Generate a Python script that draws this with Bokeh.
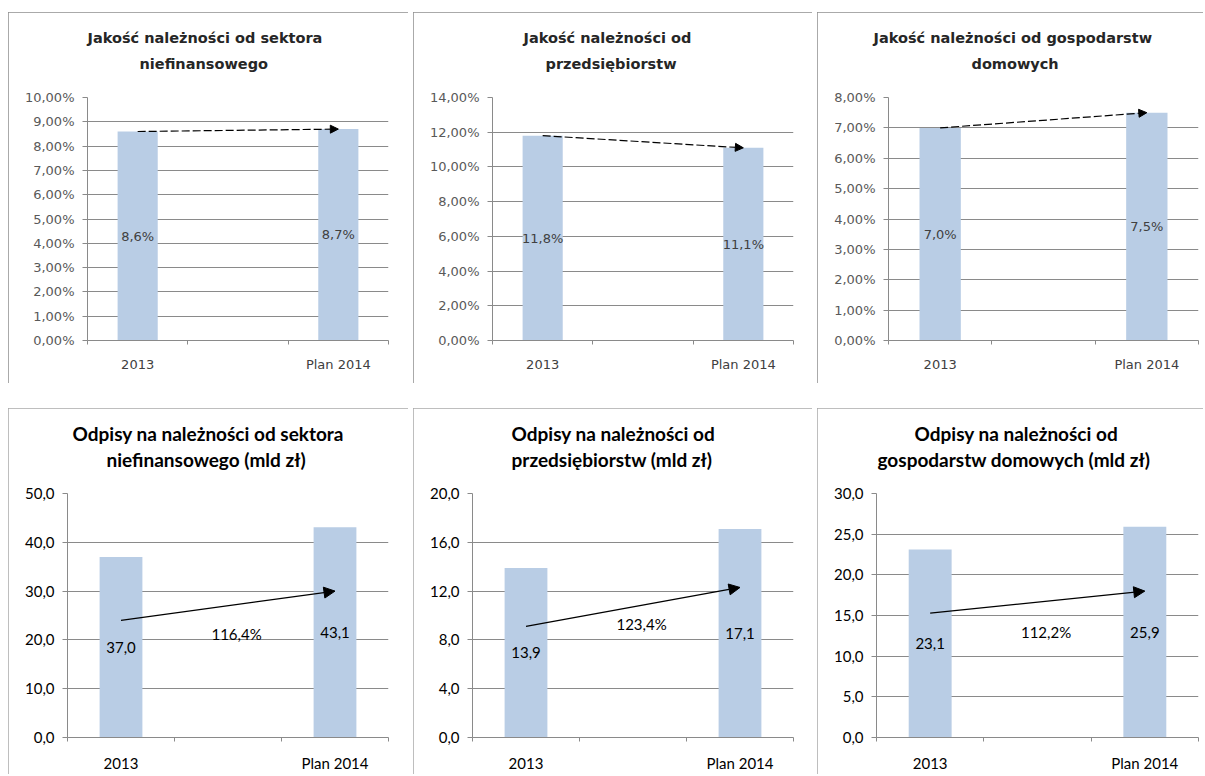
import numpy as np
from bokeh.plotting import figure
from bokeh.models import Range1d, FixedTicker, Arrow, NormalHead, Spacer, Title
from bokeh.layouts import row, column
from bokeh.embed import file_html
from bokeh.resources import INLINE
from bokeh.core.properties import value

# ---------------- data ----------------
categories = ["2013", "", "Plan 2014"]
bar_categories = ["2013", "Plan 2014"]

quality_titles = [
    ["Jakość należności od sektora", "niefinansowego"],
    ["Jakość należności od", "przedsiębiorstw"],
    ["Jakość należności od gospodarstw", "domowych"],
]
quality_sector = [8.6, 8.7]
quality_firms = [11.8, 11.1]
quality_households = [7.0, 7.5]
quality_ymax = [10, 14, 8]
quality_ystep = [1, 2, 1]

writeoff_titles = [
    ["Odpisy na należności od sektora", "niefinansowego (mld zł)"],
    ["Odpisy na należności od", "przedsiębiorstw (mld zł)"],
    ["Odpisy na należności od", "gospodarstw domowych (mld zł)"],
]
writeoff_sector = [37.0, 43.1]
writeoff_firms = [13.9, 17.1]
writeoff_households = [23.1, 25.9]
writeoff_growth = ["116,4%", "123,4%", "112,2%"]
writeoff_ymax = [50, 20, 30]
writeoff_ystep = [10, 4, 5]

# ---------------- styling / layout ----------------
BAR = "#B9CDE5"
GRID = "#8a8a8a"

bar_x = [categories.index(c) + 0.5 for c in bar_categories]
mid_x = categories.index("") + 0.5


def make_panel(kind, title_lines, title_offsets, vals, ymax, ystep, width, height, bl, br, bt, bb,
               growth=None, growth_y=None, arrow_y=None):
    p = figure(width=width, height=height, output_backend="svg", toolbar_location=None,
               title=None,
               x_range=Range1d(0, len(categories)), y_range=Range1d(0, ymax),
               min_border_left=bl, min_border_right=br, min_border_top=bt, min_border_bottom=bb)
    p.outline_line_color = None
    p.background_fill_color = "white"
    p.border_fill_color = "white"
    top = kind == "q"
    border_col = "#8e8e8e" if top else "#a8a8a8"
    p.styles = {"outline": f"1.5px solid {border_col}", "outline-offset": "-1.5px"}

    font_main = "DejaVu Sans" if top else "Lato"
    lab_size = "13px" if top else "15px"
    lab_color = "#404040" if top else "#000000"

    # bars
    p.vbar(x=bar_x, top=vals, width=0.4, fill_color=BAR, line_color=None)

    # y axis
    ticks = [float(t) for t in np.arange(0, ymax + ystep / 2, ystep)]
    if top:
        overrides = {t: (f"{t:.2f}%").replace(".", ",") for t in ticks}
    else:
        overrides = {t: (f"{t:.1f}").replace(".", ",") for t in ticks}
    yax = p.yaxis[0]
    yax.ticker = FixedTicker(ticks=ticks)
    yax.major_label_overrides = overrides
    yax.minor_tick_line_color = None
    yax.major_tick_out = 5
    yax.major_tick_in = 0
    yax.major_tick_line_color = GRID
    yax.axis_line_color = GRID
    yax.major_label_text_font = font_main
    yax.major_label_text_font_size = lab_size
    yax.major_label_text_color = "#595959" if top else "#000000"
    yax.major_label_standoff = 8

    # x axis
    xax = p.xaxis[0]
    xlabels = {float(i) + 0.5: c for i, c in enumerate(categories)}
    xax.ticker = FixedTicker(ticks=list(xlabels.keys()),
                             minor_ticks=[float(i) for i in range(len(categories) + 1)])
    xax.major_label_overrides = xlabels
    xax.major_tick_line_color = None
    xax.major_tick_out = 0
    xax.major_tick_in = 0
    xax.minor_tick_out = 4
    xax.minor_tick_in = 0
    xax.minor_tick_line_color = GRID
    xax.axis_line_color = GRID
    xax.major_label_text_font = font_main
    xax.major_label_text_font_size = lab_size
    xax.major_label_text_color = "#404040" if top else "#000000"
    xax.major_label_standoff = 12

    p.xgrid.grid_line_color = None
    p.ygrid.ticker = FixedTicker(ticks=ticks)
    p.ygrid.grid_line_color = GRID
    p.ygrid.grid_line_width = 1

    # data labels (vertical middle of bars)
    if top:
        labels = [(f"{v:.1f}%").replace(".", ",") for v in vals]
    else:
        labels = [(f"{v:.1f}").replace(".", ",") for v in vals]
    p.text(x=bar_x, y=[v / 2 for v in vals], text=labels,
           text_font=value(font_main), text_font_size=lab_size, text_color=lab_color,
           text_align="center", text_baseline="middle")

    # arrow
    if top:
        p.add_layout(Arrow(end=NormalHead(size=8, fill_color="black", line_color="black"),
                           x_start=bar_x[0], y_start=vals[0], x_end=bar_x[1], y_end=vals[1],
                           line_color="black", line_width=1.2, line_dash="8 3"))
    else:
        p.add_layout(Arrow(end=NormalHead(size=11, fill_color="black", line_color="black"),
                           x_start=bar_x[0], y_start=arrow_y[0], x_end=bar_x[1], y_end=arrow_y[1],
                           line_color="black", line_width=1.3))
        p.text(x=[mid_x + 0.08], y=[growth_y], text=[growth],
               text_font=value(font_main), text_font_size=lab_size, text_color="#000000",
               text_align="center", text_baseline="middle")

    # title: two lines, stacked above the frame (first added = closest to frame)
    if top:
        tfont, tsize, tcol, gap, s1 = "DejaVu Sans", "14.5px", "#262626", 23, 15
    else:
        tfont, tsize, tcol, gap, s1 = "Lato", "19px", "#000000", 20, 2
    p.add_layout(Title(text=" ", text_font_size="1px", standoff=gap, align="left"), "above")
    p.add_layout(Title(text=title_lines[1], align="left", offset=title_offsets[1], standoff=0,
                       text_font=tfont, text_font_size=tsize, text_font_style="bold",
                       text_color=tcol), "above")
    p.add_layout(Title(text=title_lines[0], align="left", offset=title_offsets[0], standoff=s1,
                       text_font=tfont, text_font_size=tsize, text_font_style="bold",
                       text_color=tcol), "above")
    return p


# geometry per panel: (title offsets from frame left, width, height, borders l, r, t, b)
tl = make_panel("q", quality_titles[0], [0, 52], quality_sector, quality_ymax[0], quality_ystep[0],
                400, 371, 79, 20, 85, 43)
tm = make_panel("q", quality_titles[1], [31, 53], quality_firms, quality_ymax[1], quality_ystep[1],
                399, 371, 79, 19, 85, 43)
tr = make_panel("q", quality_titles[2], [-15, 83], quality_households, quality_ymax[2], quality_ystep[2],
                386, 371, 71, 5, 85, 43)

bl_ = make_panel("w", writeoff_titles[0], [5, 39], writeoff_sector, writeoff_ymax[0], writeoff_ystep[0],
                 400, 366, 59, 20, 85, 33, growth=writeoff_growth[0], growth_y=21.2, arrow_y=[24.0, 30.0])
bm = make_panel("w", writeoff_titles[1], [39, 39], writeoff_firms, writeoff_ymax[1], writeoff_ystep[1],
                399, 366, 59, 19, 85, 33, growth=writeoff_growth[1], growth_y=9.3, arrow_y=[9.1, 12.3])
br_ = make_panel("w", writeoff_titles[2], [38, 1], writeoff_households, writeoff_ymax[2], writeoff_ystep[2],
                 386, 366, 59, 5, 85, 33, growth=writeoff_growth[2], growth_y=13.0, arrow_y=[15.3, 18.0])

layout = column(
    Spacer(height=12, width=10),
    row(Spacer(width=8, height=10), tl, Spacer(width=5, height=10), tm, Spacer(width=5, height=10), tr),
    Spacer(height=25, width=10),
    row(Spacer(width=8, height=10), bl_, Spacer(width=5, height=10), bm, Spacer(width=5, height=10), br_),
)

open("out.html", "w").write(file_html(layout, INLINE))
